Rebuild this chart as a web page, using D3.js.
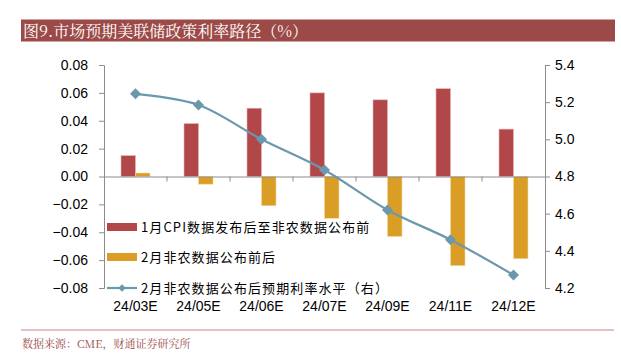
<!DOCTYPE html>
<html>
<head>
<meta charset="utf-8">
<script src="https://cdn.jsdelivr.net/npm/d3@7"></script>
<style>
  body { margin: 0; background: #fff; }
  svg { display: block; }
  .tick text { font-family: "Liberation Sans", Arial, sans-serif; font-size: 14px; fill: #000; }
  .lg { font-family: "Noto Sans CJK SC", sans-serif; font-size: 13px; fill: #000; letter-spacing: 1.1px; }
</style>
</head>
<body>
<div id="chart"></div>
<script>

var categories = ["24/03E", "24/05E", "24/06E", "24/07E", "24/09E", "24/11E", "24/12E"];
var afterCpi = [0.015, 0.038, 0.049, 0.060, 0.055, 0.063, 0.034];
var aroundNfp = [0.0025, -0.0055, -0.021, -0.030, -0.043, -0.064, -0.059];
var ratePath = [5.245, 5.185, 5.00, 4.835, 4.62, 4.46, 4.27];
var leftTicks = [0.08, 0.06, 0.04, 0.02, 0.00, -0.02, -0.04, -0.06, -0.08];
var rightTicks = [5.4, 5.2, 5.0, 4.8, 4.6, 4.4, 4.2];
var legendNames = ["1月CPI数据发布后至非农数据公布前", "2月非农数据公布前后", "2月非农数据公布后预期利率水平（右）"];

var red = "#b2474a", orange = "#da9e27", blue = "#6b98ad", axisGrey = "#8c8c8c";

var svg = d3.select("#chart").append("svg")
    .attr("width", 621)
    .attr("height", 364);

// title bar
svg.append("rect")
    .attr("x", 21).attr("y", 19.5)
    .attr("width", 594).attr("height", 22)
    .attr("fill", "#9c4a48");
svg.append("text")
    .attr("x", 23).attr("y", 36.5)
    .attr("fill", "#fff")
    .style("font-family", "'Noto Serif CJK SC', 'Noto Sans CJK SC', serif")
    .style("font-size", "16px")
    .text("图9.市场预期美联储政策利率路径（%）");

var plotL = 104, plotR = 545, plotT = 65, plotB = 288;

var x = d3.scaleBand().domain(d3.range(categories.length)).range([plotL, plotR]);
var y = d3.scaleLinear().domain([-0.08, 0.08]).range([plotB, plotT]);
var y2 = d3.scaleLinear().domain([4.2, 5.4]).range([plotB, plotT]);
var barW = 14.5;

// bars
svg.append("g").selectAll("rect")
    .data(afterCpi)
    .enter().append("rect")
    .attr("x", function (d, i) { return x(i) + x.bandwidth() / 2 - barW; })
    .attr("y", function (d) { return y(Math.max(0, d)); })
    .attr("width", barW)
    .attr("height", function (d) { return Math.abs(y(d) - y(0)); })
    .attr("fill", red)
    .attr("stroke", "#e8b4b2")
    .attr("stroke-width", 0.6);

svg.append("g").selectAll("rect")
    .data(aroundNfp)
    .enter().append("rect")
    .attr("x", function (d, i) { return x(i) + x.bandwidth() / 2; })
    .attr("y", function (d) { return y(Math.max(0, d)); })
    .attr("width", barW)
    .attr("height", function (d) { return Math.abs(y(d) - y(0)); })
    .attr("fill", orange)
    .attr("stroke", "#f3d9a0")
    .attr("stroke-width", 0.6);

// axes
var leftAxis = svg.append("g")
    .attr("transform", "translate(" + plotL + ",0)")
    .call(d3.axisLeft(y).tickValues(leftTicks).tickFormat(d3.format(".2f")).tickSize(5).tickPadding(11));
var rightAxis = svg.append("g")
    .attr("transform", "translate(" + plotR + ",0)")
    .call(d3.axisRight(y2).tickValues(rightTicks).tickFormat(d3.format(".1f")).tickSize(5).tickPadding(5));
[leftAxis, rightAxis].forEach(function (a) {
    a.select(".domain").attr("stroke", axisGrey);
    a.selectAll(".tick line").attr("stroke", axisGrey);
});

// zero line with category separators
var xAxis = svg.append("g")
    .attr("transform", "translate(0," + y(0) + ")")
    .call(d3.axisBottom(x).tickValues([]).tickSizeOuter(0));
xAxis.select(".domain").attr("stroke", axisGrey);
xAxis.selectAll(".sep")
    .data(d3.range(1, categories.length))
    .enter().append("line")
    .attr("class", "sep")
    .attr("x1", function (i) { return x(i); })
    .attr("x2", function (i) { return x(i); })
    .attr("y1", 0).attr("y2", 5)
    .attr("stroke", axisGrey);

// category labels, centred under each band
svg.append("g").selectAll("text")
    .data(categories)
    .enter().append("text")
    .attr("x", function (d, i) { return x(i) + x.bandwidth() / 2; })
    .attr("y", 311)
    .attr("text-anchor", "middle")
    .style("font-family", "'Liberation Sans', Arial, sans-serif")
    .style("font-size", "14px")
    .text(function (d) { return d; });

// rate line
var line = d3.line()
    .x(function (d, i) { return x(i) + x.bandwidth() / 2; })
    .y(function (d) { return y2(d); })
    .curve(d3.curveCatmullRom.alpha(0.5));
svg.append("path")
    .datum(ratePath)
    .attr("d", line)
    .attr("fill", "none")
    .attr("stroke", blue)
    .attr("stroke-width", 2.2);

var diamond = d3.symbol().type(d3.symbolDiamond2).size(78);
svg.append("g").selectAll("path")
    .data(ratePath)
    .enter().append("path")
    .attr("transform", function (d, i) {
        return "translate(" + (x(i) + x.bandwidth() / 2) + "," + y2(d) + ")";
    })
    .attr("d", diamond)
    .attr("fill", blue);

// legend
var lgY = [227, 257, 288];
var lg = svg.append("g");
lg.append("rect").attr("x", 107).attr("y", lgY[0] - 4).attr("width", 30).attr("height", 8).attr("fill", red);
lg.append("rect").attr("x", 107).attr("y", lgY[1] - 4).attr("width", 30).attr("height", 8).attr("fill", orange);
lg.append("line").attr("x1", 107).attr("x2", 137).attr("y1", lgY[2]).attr("y2", lgY[2])
    .attr("stroke", blue).attr("stroke-width", 2.2);
lg.append("path").attr("transform", "translate(122," + lgY[2] + ")")
    .attr("d", d3.symbol().type(d3.symbolDiamond2).size(36)).attr("fill", blue);
lg.selectAll("text")
    .data(legendNames)
    .enter().append("text")
    .attr("class", "lg")
    .attr("x", 141)
    .attr("y", function (d, i) { return lgY[i]; })
    .attr("dy", "0.36em")
    .text(function (d) { return d; });

// footer
svg.append("line")
    .attr("x1", 21).attr("x2", 614)
    .attr("y1", 330).attr("y2", 330)
    .attr("stroke", "#c98583").attr("stroke-width", 1);
svg.append("text")
    .attr("x", 22).attr("y", 347.5)
    .attr("fill", "#9c4a48")
    .style("font-family", "'Noto Serif CJK SC', 'Noto Sans CJK SC', serif")
    .style("font-size", "11px")
    .text("数据来源：CME，财通证券研究所");

</script>
</body>
</html>
